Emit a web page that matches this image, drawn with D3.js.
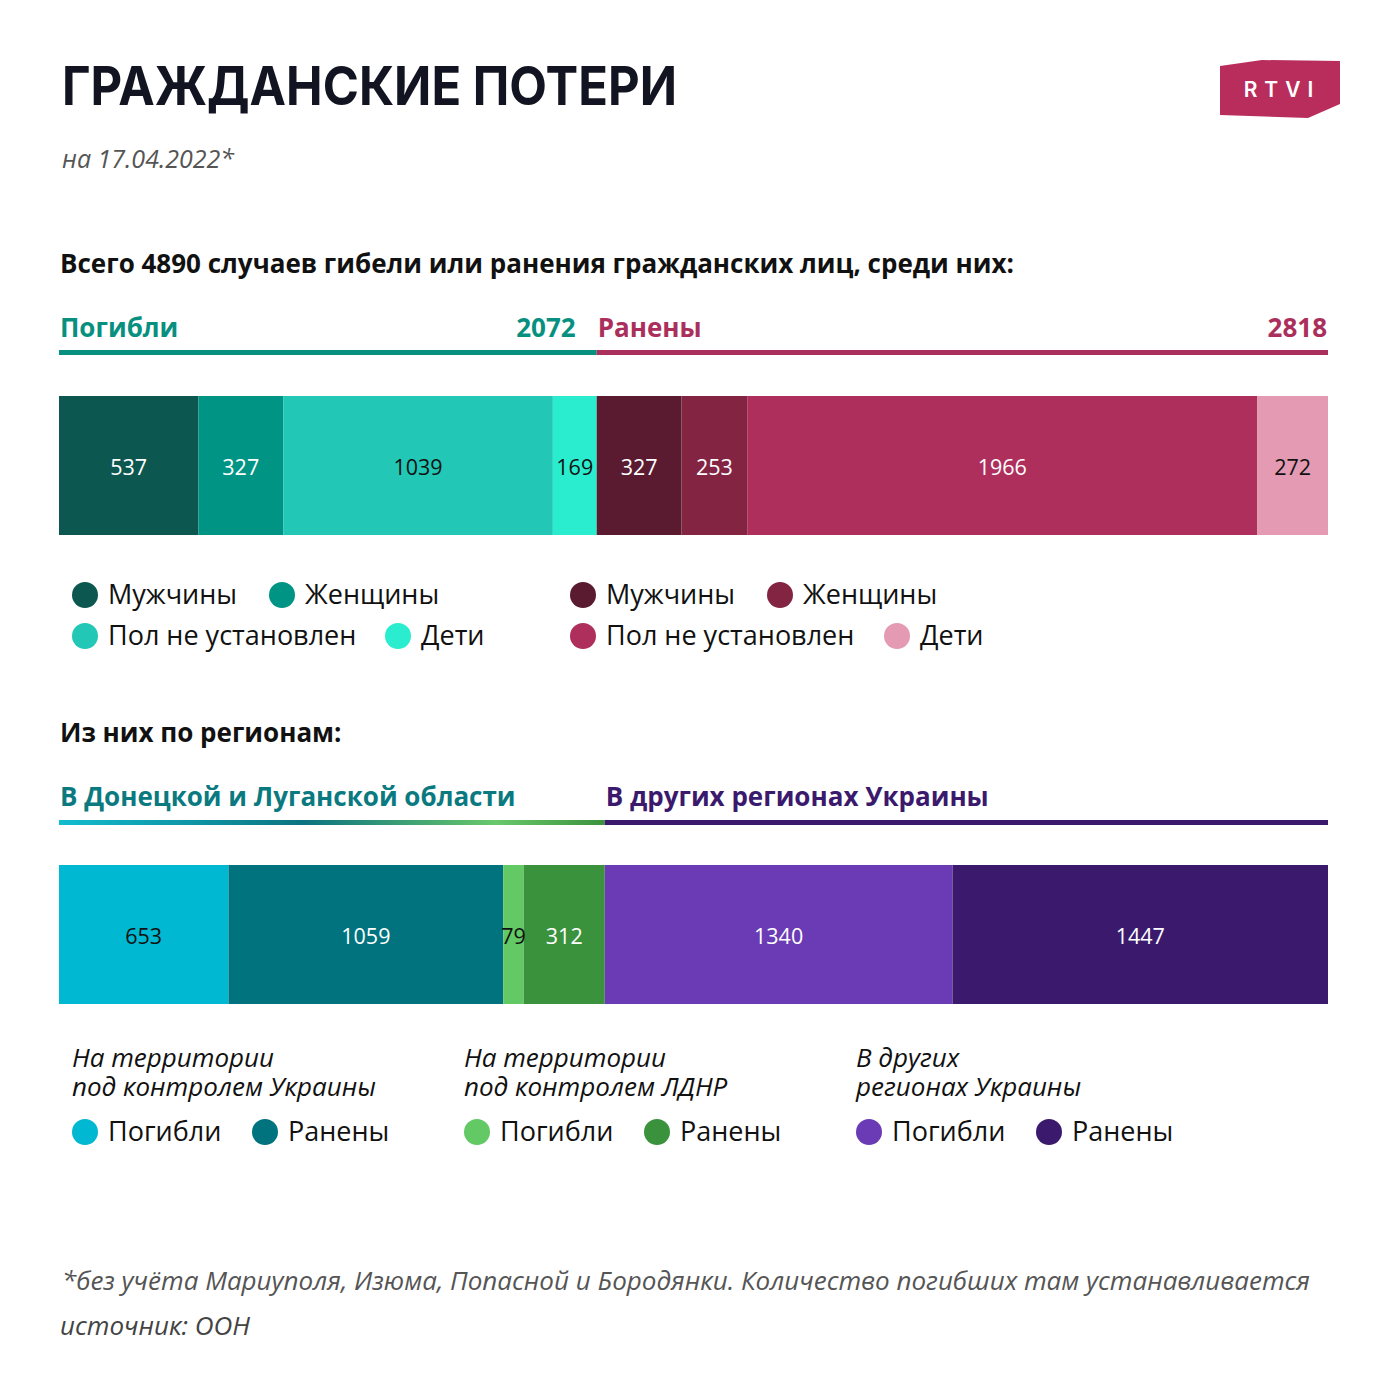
<!DOCTYPE html>
<html><head><meta charset="utf-8">
<script src="https://cdn.jsdelivr.net/npm/d3@7"></script>
<style>
html,body{margin:0;padding:0;background:#fff;}
svg text{font-family:"Open Sans",sans-serif;}
</style></head>
<body><svg id="c" width="1400" height="1400"></svg>
<script>
// ---- data ----
const title = "ГРАЖДАНСКИЕ ПОТЕРИ";
const subtitle = "на 17.04.2022*";
const heading1 = "Всего 4890 случаев гибели или ранения гражданских лиц, среди них:";
const heading2 = "Из них по регионам:";
const statusGroups = ["Погибли", "Ранены"];
const genderLabels = ["Мужчины", "Женщины", "Пол не установлен", "Дети"];
const killedValues = [537, 327, 1039, 169];
const injuredValues = [327, 253, 1966, 272];
const regionHeaders = ["В Донецкой и Луганской области", "В других регионах Украины"];
const regionGroups = [["На территории", "под контролем Украины"], ["На территории", "под контролем ЛДНР"], ["В других", "регионах Украины"]];
const regionKilled = [653, 79, 1340];
const regionInjured = [1059, 312, 1447];
const footnote = "*без учёта Мариуполя, Изюма, Попасной и Бородянки. Количество погибших там устанавливается";
const source = "источник: ООН";

// ---- styles ----
const killedColors = ["#0c5750", "#009485", "#22c7b5", "#2aeccf"];
const injuredColors = ["#5a1a30", "#822442", "#ae2f5c", "#e39ab2"];
const killedText = ["#fff", "#fff", "#111", "#111"];
const injuredText = ["#fff", "#fff", "#fff", "#111"];
const regionKilledColors = ["#00b8d1", "#62c965", "#6a3bb5"];
const regionInjuredColors = ["#00737e", "#3b923d", "#3b1a6e"];
const regionKilledText = ["#111", "#111", "#fff"];
const regionInjuredText = ["#fff", "#fff", "#fff"];
const teal = "#07907f", crimson = "#ab2f5c", regTeal = "#0b7a80", purple = "#3b1a6e";

const svg = d3.select("#c");
const total = d3.sum(killedValues) + d3.sum(injuredValues);
const x = d3.scaleLinear().domain([0, total]).range([59, 1328]);

// title
svg.append("text").attr("x", 62).attr("y", 105).text(title)
  .attr("textLength", 615).attr("lengthAdjust", "spacingAndGlyphs")
  .style("font-family", "Inter, sans-serif").style("font-weight", 700).style("font-size", "54px").attr("fill", "#121521");
svg.append("text").attr("x", 62).attr("y", 168).text(subtitle)
  .style("font-style", "italic").style("font-weight", 400).style("font-size", "25px").attr("fill", "#555");

// logo
svg.append("polygon").attr("points", "1220,66 1262,60 1340,61 1340,104 1308,118 1220,115").attr("fill", "#b92d5d");
svg.append("text").attr("x", 1282).attr("y", 97).attr("text-anchor", "middle").text("RTVI")
  .style("font-family", "Inter, sans-serif").style("font-weight", 600).style("font-size", "21px").style("letter-spacing", "7px").attr("fill", "#fff");

// heading 1
svg.append("text").attr("x", 60).attr("y", 273).text(heading1).style("font-weight", 700).style("font-size", "26px").attr("fill", "#111");

// status headers
const killedTotal = d3.sum(killedValues), injuredTotal = d3.sum(injuredValues);
const hdr = [
  {name: statusGroups[0], total: killedTotal, x0: 0, x1: killedTotal, color: teal},
  {name: statusGroups[1], total: injuredTotal, x0: killedTotal, x1: total, color: crimson}
];
hdr.forEach(h => {
  svg.append("text").attr("x", x(h.x0) + 1).attr("y", 337).text(h.name).style("font-weight", 700).style("font-size", "26px").attr("fill", h.color);
  svg.append("text").attr("x", x(h.x1) - (h.x1 === total ? 1 : 21)).attr("y", 337).attr("text-anchor", "end").text(h.total)
    .style("font-weight", 700).style("font-size", "26px").attr("fill", h.color);
  svg.append("rect").attr("x", x(h.x0)).attr("y", 350).attr("width", x(h.x1) - x(h.x0)).attr("height", 5).attr("fill", h.color);
});

// bar 1
const seg1 = [];
let acc = 0;
killedValues.forEach((v, i) => { seg1.push({v, x0: acc, color: killedColors[i], tc: killedText[i]}); acc += v; });
injuredValues.forEach((v, i) => { seg1.push({v, x0: acc, color: injuredColors[i], tc: injuredText[i]}); acc += v; });
const g1 = svg.append("g");
g1.selectAll("rect").data(seg1).join("rect")
  .attr("x", d => x(d.x0)).attr("y", 396).attr("width", d => x(d.x0 + d.v) - x(d.x0)).attr("height", 139).attr("fill", d => d.color);
g1.selectAll("text").data(seg1).join("text")
  .attr("x", d => (x(d.x0) + x(d.x0 + d.v)) / 2).attr("y", 475).attr("text-anchor", "middle")
  .text(d => d.v).style("font-size", "21.5px").attr("fill", d => d.tc);

// legend 1
function legendItem(cx, cy, color, label) {
  svg.append("circle").attr("cx", cx).attr("cy", cy).attr("r", 13).attr("fill", color);
  svg.append("text").attr("x", cx + 23).attr("y", cy + 9).text(label).style("font-size", "27px").attr("fill", "#111");
}
const legPos = [[85, 595], [282, 595], [85, 636], [398, 636]];
const legPos2 = [[583, 595], [780, 595], [583, 636], [897, 636]];
genderLabels.forEach((l, i) => legendItem(legPos[i][0], legPos[i][1], killedColors[i], l));
genderLabels.forEach((l, i) => legendItem(legPos2[i][0], legPos2[i][1], injuredColors[i], l));

// heading 2
svg.append("text").attr("x", 60).attr("y", 742).text(heading2).style("font-weight", 700).style("font-size", "26px").attr("fill", "#111");

// region segments
const seg2 = [];
acc = 0;
regionKilled.forEach((v, i) => {
  seg2.push({v, x0: acc, color: regionKilledColors[i], tc: regionKilledText[i]}); acc += v;
  seg2.push({v: regionInjured[i], x0: acc, color: regionInjuredColors[i], tc: regionInjuredText[i]}); acc += regionInjured[i];
});
const donbassEnd = regionKilled[0] + regionInjured[0] + regionKilled[1] + regionInjured[1];

// region headers
svg.append("text").attr("x", 60).attr("y", 806).text(regionHeaders[0]).style("font-weight", 700).style("font-size", "26px").attr("fill", regTeal);
svg.append("text").attr("x", x(donbassEnd) + 1).attr("y", 806).text(regionHeaders[1]).style("font-weight", 700).style("font-size", "26px").attr("fill", purple);
const defs = svg.append("defs");
const grad = defs.append("linearGradient").attr("id", "gr").attr("x1", "0%").attr("x2", "100%");
[["0%", "#12bccf"], ["45%", "#0c7380"], ["80%", "#68c86a"], ["100%", "#3b923d"]].forEach(s =>
  grad.append("stop").attr("offset", s[0]).attr("stop-color", s[1]));
svg.append("rect").attr("x", x(0)).attr("y", 820).attr("width", x(donbassEnd) - x(0)).attr("height", 5).attr("fill", "url(#gr)");
svg.append("rect").attr("x", x(donbassEnd)).attr("y", 820).attr("width", x(total) - x(donbassEnd)).attr("height", 5).attr("fill", purple);

// bar 2
const g2 = svg.append("g");
g2.selectAll("rect").data(seg2).join("rect")
  .attr("x", d => x(d.x0)).attr("y", 865).attr("width", d => x(d.x0 + d.v) - x(d.x0)).attr("height", 139).attr("fill", d => d.color);
g2.selectAll("text").data(seg2).join("text")
  .attr("x", d => (x(d.x0) + x(d.x0 + d.v)) / 2).attr("y", 944).attr("text-anchor", "middle")
  .text(d => d.v).style("font-size", "21.5px").attr("fill", d => d.tc);

// legend 2
const groupX = [72, 464, 856];
regionGroups.forEach((lines, i) => {
  const gx = groupX[i];
  lines.forEach((ln, j) => {
    svg.append("text").attr("x", gx).attr("y", 1067 + j * 29).text(ln)
      .style("font-style", "italic").style("font-size", "26px").attr("fill", "#111");
  });
  legendItem(gx + 13, 1132, regionKilledColors[i], statusGroups[0]);
  legendItem(gx + 193, 1132, regionInjuredColors[i], statusGroups[1]);
});

// footer
svg.append("text").attr("x", 62).attr("y", 1290).text(footnote).style("font-style", "italic").style("font-weight", 400).style("font-size", "26px").attr("fill", "#555");
svg.append("text").attr("x", 60).attr("y", 1335).text(source).style("font-style", "italic").style("font-weight", 400).style("font-size", "26px").attr("fill", "#444");
</script></body></html>
